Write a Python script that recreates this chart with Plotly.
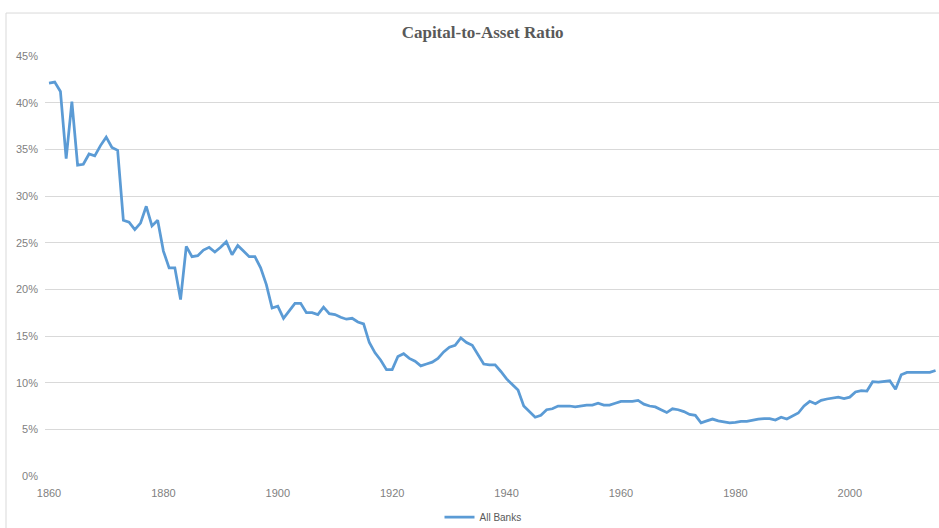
import plotly.graph_objects as go

years = list(range(1860, 2016))
all_banks = [
    42.1, 42.2, 41.2, 34.0, 40.1, 33.3, 33.4, 34.5, 34.3, 35.4,   # 1860-1869
    36.3, 35.2, 34.9, 27.4, 27.2, 26.4, 27.1, 28.9, 26.8, 27.4,   # 1870-1879
    24.1, 22.3, 22.3, 18.9, 24.6, 23.5, 23.6, 24.2, 24.5, 24.0,   # 1880-1889
    24.5, 25.1, 23.7, 24.7, 24.1, 23.5, 23.5, 22.3, 20.5, 18.0,   # 1890-1899
    18.2, 16.9, 17.7, 18.5, 18.5, 17.5, 17.5, 17.3, 18.1, 17.4,   # 1900-1909
    17.3, 17.0, 16.8, 16.9, 16.5, 16.3, 14.3, 13.2, 12.4, 11.4,   # 1910-1919
    11.4, 12.8, 13.1, 12.6, 12.3, 11.8, 12.0, 12.2, 12.6, 13.3,   # 1920-1929
    13.8, 14.0, 14.8, 14.3, 14.0, 13.0, 12.0, 11.9, 11.9, 11.2,   # 1930-1939
    10.4, 9.8, 9.2, 7.5, 6.9, 6.3, 6.5, 7.1, 7.2, 7.5,            # 1940-1949
    7.5, 7.5, 7.4, 7.5, 7.6, 7.6, 7.8, 7.6, 7.6, 7.8,             # 1950-1959
    8.0, 8.0, 8.0, 8.1, 7.7, 7.5, 7.4, 7.1, 6.8, 7.2,             # 1960-1969
    7.1, 6.9, 6.6, 6.5, 5.7, 5.9, 6.1, 5.9, 5.8, 5.7,             # 1970-1979
    5.75, 5.85, 5.85, 6.0, 6.1, 6.15, 6.15, 6.0, 6.3, 6.1,        # 1980-1989
    6.4, 6.75, 7.5, 8.0, 7.75, 8.1, 8.25, 8.35, 8.45, 8.3,        # 1990-1999
    8.45, 9.0, 9.15, 9.1, 10.1, 10.05, 10.15, 10.2, 9.3, 10.85,   # 2000-2009
    11.1, 11.1, 11.1, 11.1, 11.1, 11.3,                           # 2010-2015
]
x_ticks = [1860, 1880, 1900, 1920, 1940, 1960, 1980, 2000]
y_ticks = [0, 5, 10, 15, 20, 25, 30, 35, 40, 45]
y_tick_labels = [f"{v}%" for v in y_ticks]

title_text = "Capital-to-Asset Ratio"
series_name = "All Banks"

fig = go.Figure()
fig.add_trace(go.Scatter(
    x=years, y=all_banks, mode="lines", name=series_name,
    line=dict(color="#5B9BD5", width=2.75),
))

tick_font = dict(family="Liberation Sans Narrow, Arial Narrow, Liberation Sans, sans-serif",
                 size=11, color="#7F7F7F")

fig.update_layout(
    width=939, height=528,
    margin=dict(l=45, r=0, t=56, b=52, autoexpand=False),
    paper_bgcolor="white", plot_bgcolor="white",
    title=dict(text=title_text, x=0.514, xref="container", xanchor="center",
               y=1 - 32 / 528, yref="container", yanchor="middle",
               font=dict(family="Liberation Serif, Times New Roman, serif", size=17,
                         color="#595959", weight="bold")),
    showlegend=True,
    legend=dict(orientation="h", x=483 / 939, xref="container", xanchor="center",
                y=(528 - 517) / 528, yref="container", yanchor="middle",
                font=dict(family="Liberation Sans Narrow, Arial Narrow, Liberation Sans, sans-serif",
                          size=10, color="#595959"),
                bgcolor="rgba(0,0,0,0)"),
    xaxis=dict(range=[1859.3, 2015.6], tickvals=x_ticks, showgrid=False,
               zeroline=False, showline=False, ticks="", tickfont=tick_font,
               ticklabelstandoff=9, automargin=False),
    yaxis=dict(range=[0, 45], tickvals=y_ticks, ticktext=y_tick_labels,
               showgrid=True, gridcolor="#D9D9D9", gridwidth=1,
               zeroline=False, showline=False, ticks="", tickfont=tick_font,
               ticklabelstandoff=6, automargin=False),
    shapes=[
        dict(type="line", xref="paper", yref="paper",
             x0=(6 - 45) / 894, x1=1.1, y0=1 + 43 / 420.3, y1=1 + 43 / 420.3,
             line=dict(color="#D9D9D9", width=1)),
        dict(type="line", xref="paper", yref="paper",
             x0=(6 - 45) / 894, x1=(6 - 45) / 894, y0=1 + 43 / 420.3, y1=-0.2,
             line=dict(color="#D9D9D9", width=1)),
    ],
)

fig.write_html("out.html", config={"displayModeBar": False},
               post_script="document.body.style.margin='0';document.body.style.overflow='hidden';")
